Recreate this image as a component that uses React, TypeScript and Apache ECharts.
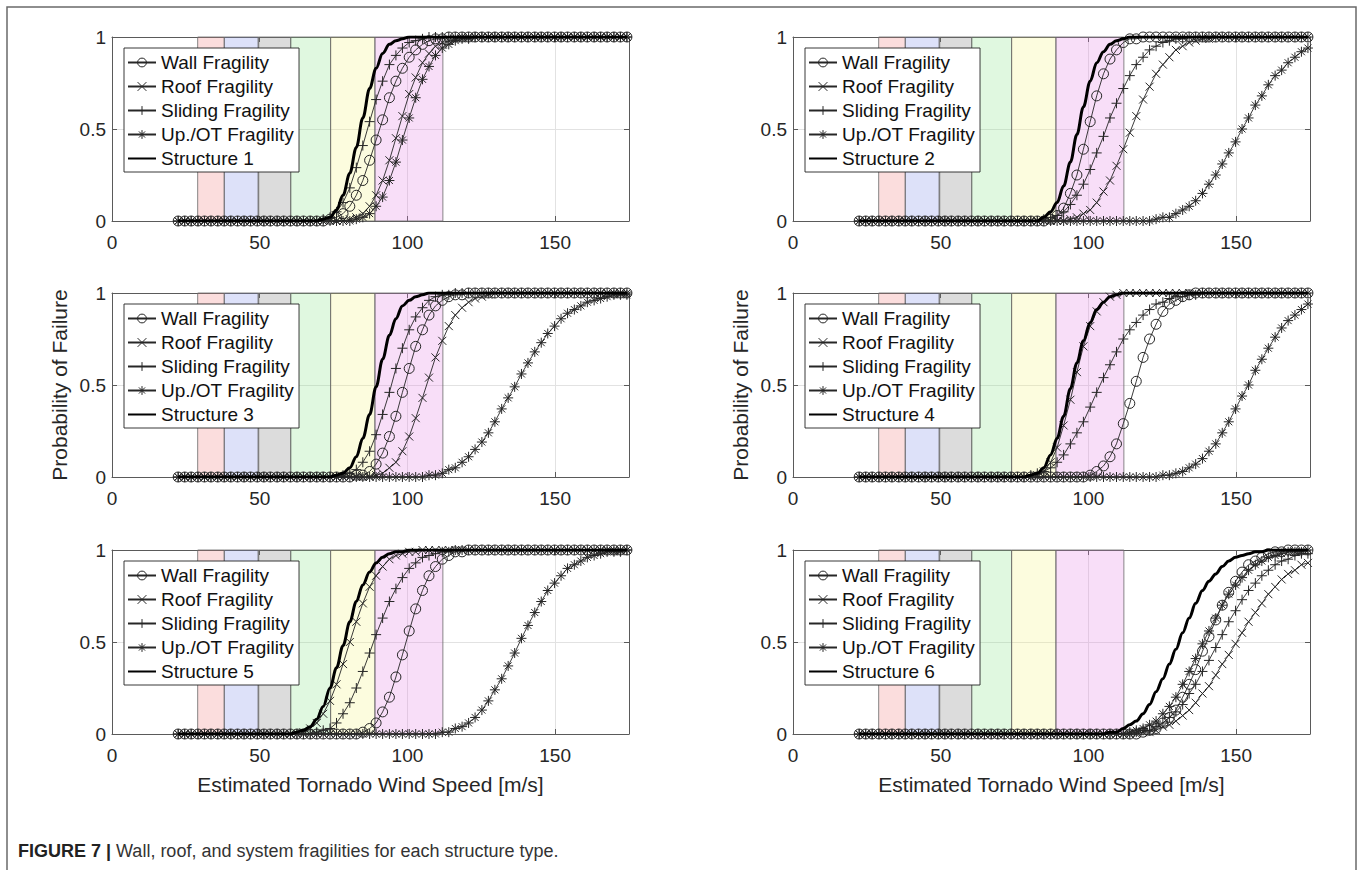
import React, { useEffect, useRef } from "react";
import * as echarts from "echarts";

// Wind speed grid of the markers [m/s]
const SPEED = [
  22.4, 24.6, 26.8, 29.1, 31.3, 33.5, 35.8, 38.0, 40.2, 42.5,
  44.7, 46.9, 49.2, 51.4, 53.6, 55.9, 58.1, 60.4, 62.6, 64.8,
  67.1, 69.3, 71.5, 73.8, 76.0, 78.2, 80.5, 82.7, 84.9, 87.2,
  89.4, 91.6, 93.9, 96.1, 98.3, 100.6, 102.8, 105.1, 107.3, 109.5,
  111.8, 114.0, 116.2, 118.5, 120.7, 122.9, 125.2, 127.4, 129.6, 131.9,
  134.1, 136.3, 138.6, 140.8, 143.1, 145.3, 147.5, 149.8, 152.0, 154.2,
  156.5, 158.7, 160.9, 163.2, 165.4, 167.6, 169.9, 172.1, 174.3,
];

const X_TICKS = [0, 50, 100, 150];
const Y_TICKS = [0, 0.5, 1];

// ---------- Structure 1 ----------
const WALL_1 = [
  0,0,0,0,0,0,0,0,0,0,
  0,0,0,0,0,0,0,0,0,0,
  0,0,0,.01,.02,.04,.08,.14,.22,.33,
  .44,.55,.67,.76,.83,.89,.93,.96,.98,.99,
  .99,1,1,1,1,1,1,1,1,1,
  1,1,1,1,1,1,1,1,1,1,
  1,1,1,1,1,1,1,1,1,
];
const ROOF_1 = [
  0,0,0,0,0,0,0,0,0,0,
  0,0,0,0,0,0,0,0,0,0,
  0,0,0,0,0,0,.01,.02,.04,.08,
  .14,.22,.33,.45,.57,.69,.78,.86,.91,.95,
  .97,.98,.99,1,1,1,1,1,1,1,
  1,1,1,1,1,1,1,1,1,1,
  1,1,1,1,1,1,1,1,1,
];
const SLIDE_1 = [
  0,0,0,0,0,0,0,0,0,0,
  0,0,0,0,0,0,0,0,0,0,
  0,0,.01,.02,.05,.10,.18,.29,.41,.54,
  .66,.76,.85,.90,.94,.97,.98,.99,1,1,
  1,1,1,1,1,1,1,1,1,1,
  1,1,1,1,1,1,1,1,1,1,
  1,1,1,1,1,1,1,1,1,
];
const UP_1 = [
  0,0,0,0,0,0,0,0,0,0,
  0,0,0,0,0,0,0,0,0,0,
  0,0,0,0,0,0,0,.01,.02,.04,
  .08,.13,.22,.32,.44,.56,.67,.77,.84,.90,
  .94,.96,.98,.99,.99,1,1,1,1,1,
  1,1,1,1,1,1,1,1,1,1,
  1,1,1,1,1,1,1,1,1,
];
const STRUCT_1 = [
  0,0,0,0,0,0,0,0,0,0,
  0,0,0,0,0,0,0,0,0,0,
  0,0,.01,.02,.06,.14,.26,.40,.56,.72,
  .83,.91,.96,.98,.99,1,1,1,1,1,
  1,1,1,1,1,1,1,1,1,1,
  1,1,1,1,1,1,1,1,1,1,
  1,1,1,1,1,1,1,1,1,
];

// ---------- Structure 2 ----------
const WALL_2 = [
  0,0,0,0,0,0,0,0,0,0,
  0,0,0,0,0,0,0,0,0,0,
  0,0,0,0,0,0,0,0,0,.01,
  .03,.07,.15,.25,.39,.54,.68,.80,.88,.93,
  .97,.99,.99,1,1,1,1,1,1,1,
  1,1,1,1,1,1,1,1,1,1,
  1,1,1,1,1,1,1,1,1,
];
const ROOF_2 = [
  0,0,0,0,0,0,0,0,0,0,
  0,0,0,0,0,0,0,0,0,0,
  0,0,0,0,0,0,0,0,0,0,
  0,0,.01,.02,.04,.06,.10,.16,.22,.30,
  .39,.48,.57,.66,.73,.80,.85,.89,.93,.95,
  .97,.98,.99,.99,1,1,1,1,1,1,
  1,1,1,1,1,1,1,1,1,
];
const SLIDE_2 = [
  0,0,0,0,0,0,0,0,0,0,
  0,0,0,0,0,0,0,0,0,0,
  0,0,0,0,0,0,0,0,.01,.02,
  .03,.05,.09,.14,.20,.28,.37,.46,.56,.64,
  .72,.79,.85,.89,.93,.95,.97,.98,.99,.99,
  1,1,1,1,1,1,1,1,1,1,
  1,1,1,1,1,1,1,1,1,
];
const UP_2 = [
  0,0,0,0,0,0,0,0,0,0,
  0,0,0,0,0,0,0,0,0,0,
  0,0,0,0,0,0,0,0,0,0,
  0,0,0,0,0,0,0,0,0,0,
  0,0,0,0,0,.01,.02,.02,.04,.06,
  .08,.11,.15,.20,.25,.31,.37,.43,.50,.56,
  .63,.68,.74,.79,.82,.86,.89,.92,.94,
];
const STRUCT_2 = [
  0,0,0,0,0,0,0,0,0,0,
  0,0,0,0,0,0,0,0,0,0,
  0,0,0,0,0,0,0,0,.02,.05,
  .10,.19,.32,.47,.62,.76,.86,.92,.96,.98,
  .99,1,1,1,1,1,1,1,1,1,
  1,1,1,1,1,1,1,1,1,1,
  1,1,1,1,1,1,1,1,1,
];

// ---------- Structure 3 ----------
const WALL_3 = [
  0,0,0,0,0,0,0,0,0,0,
  0,0,0,0,0,0,0,0,0,0,
  0,0,0,0,0,0,0,.01,.01,.03,
  .07,.13,.22,.33,.46,.59,.71,.80,.88,.93,
  .96,.98,.99,.99,1,1,1,1,1,1,
  1,1,1,1,1,1,1,1,1,1,
  1,1,1,1,1,1,1,1,1,
];
const ROOF_3 = [
  0,0,0,0,0,0,0,0,0,0,
  0,0,0,0,0,0,0,0,0,0,
  0,0,0,0,0,0,0,0,0,0,
  .01,.02,.05,.08,.14,.22,.32,.43,.54,.65,
  .74,.82,.88,.92,.95,.97,.98,.99,1,1,
  1,1,1,1,1,1,1,1,1,1,
  1,1,1,1,1,1,1,1,1,
];
const SLIDE_3 = [
  0,0,0,0,0,0,0,0,0,0,
  0,0,0,0,0,0,0,0,0,0,
  0,0,0,0,0,.01,.02,.04,.08,.14,
  .23,.34,.46,.59,.70,.80,.87,.92,.96,.98,
  .99,.99,1,1,1,1,1,1,1,1,
  1,1,1,1,1,1,1,1,1,1,
  1,1,1,1,1,1,1,1,1,
];
const UP_3 = [
  0,0,0,0,0,0,0,0,0,0,
  0,0,0,0,0,0,0,0,0,0,
  0,0,0,0,0,0,0,0,0,0,
  0,0,0,0,0,0,0,0,.01,.01,
  .02,.04,.05,.08,.11,.15,.19,.24,.30,.37,
  .43,.49,.56,.62,.68,.73,.78,.82,.86,.89,
  .91,.93,.95,.96,.97,.98,.99,.99,.99,
];
const STRUCT_3 = [
  0,0,0,0,0,0,0,0,0,0,
  0,0,0,0,0,0,0,0,0,0,
  0,0,0,0,.01,.02,.05,.11,.21,.34,
  .49,.64,.77,.86,.93,.96,.98,.99,1,1,
  1,1,1,1,1,1,1,1,1,1,
  1,1,1,1,1,1,1,1,1,1,
  1,1,1,1,1,1,1,1,1,
];

// ---------- Structure 4 ----------
const WALL_4 = [
  0,0,0,0,0,0,0,0,0,0,
  0,0,0,0,0,0,0,0,0,0,
  0,0,0,0,0,0,0,0,0,0,
  0,0,0,0,0,.01,.03,.06,.11,.18,
  .29,.40,.52,.65,.75,.83,.90,.94,.96,.98,
  .99,1,1,1,1,1,1,1,1,1,
  1,1,1,1,1,1,1,1,1,
];
const ROOF_4 = [
  0,0,0,0,0,0,0,0,0,0,
  0,0,0,0,0,0,0,0,0,0,
  0,0,0,0,0,0,0,.01,.03,.08,
  .16,.28,.42,.57,.71,.82,.90,.95,.98,.99,
  1,1,1,1,1,1,1,1,1,1,
  1,1,1,1,1,1,1,1,1,1,
  1,1,1,1,1,1,1,1,1,
];
const SLIDE_4 = [
  0,0,0,0,0,0,0,0,0,0,
  0,0,0,0,0,0,0,0,0,0,
  0,0,0,0,0,0,.01,.02,.03,.05,
  .08,.12,.18,.24,.30,.38,.46,.54,.61,.68,
  .75,.80,.84,.88,.91,.94,.95,.97,.98,.98,
  .99,.99,1,1,1,1,1,1,1,1,
  1,1,1,1,1,1,1,1,1,
];
const UP_4 = [
  0,0,0,0,0,0,0,0,0,0,
  0,0,0,0,0,0,0,0,0,0,
  0,0,0,0,0,0,0,0,0,0,
  0,0,0,0,0,0,0,0,0,0,
  0,0,0,0,0,0,.01,.01,.02,.03,
  .05,.07,.10,.14,.18,.24,.30,.37,.44,.50,
  .58,.64,.70,.76,.81,.85,.88,.91,.94,
];
const STRUCT_4 = [
  0,0,0,0,0,0,0,0,0,0,
  0,0,0,0,0,0,0,0,0,0,
  0,0,0,0,0,0,.01,.02,.05,.12,
  .21,.33,.48,.62,.74,.84,.91,.95,.98,.99,
  1,1,1,1,1,1,1,1,1,1,
  1,1,1,1,1,1,1,1,1,1,
  1,1,1,1,1,1,1,1,1,
];

// ---------- Structure 5 ----------
const WALL_5 = [
  0,0,0,0,0,0,0,0,0,0,
  0,0,0,0,0,0,0,0,0,0,
  0,0,0,0,0,0,0,0,.01,.03,
  .06,.12,.20,.31,.43,.56,.68,.78,.86,.91,
  .95,.97,.99,.99,1,1,1,1,1,1,
  1,1,1,1,1,1,1,1,1,1,
  1,1,1,1,1,1,1,1,1,
];
const ROOF_5 = [
  0,0,0,0,0,0,0,0,0,0,
  0,0,0,0,0,0,0,0,0,.01,
  .03,.06,.11,.18,.27,.38,.50,.61,.71,.80,
  .86,.91,.95,.97,.98,.99,.99,1,1,1,
  1,1,1,1,1,1,1,1,1,1,
  1,1,1,1,1,1,1,1,1,1,
  1,1,1,1,1,1,1,1,1,
];
const SLIDE_5 = [
  0,0,0,0,0,0,0,0,0,0,
  0,0,0,0,0,0,0,0,0,0,
  0,.01,.02,.03,.06,.11,.17,.25,.34,.44,
  .54,.63,.72,.79,.85,.90,.93,.96,.97,.98,
  .99,.99,1,1,1,1,1,1,1,1,
  1,1,1,1,1,1,1,1,1,1,
  1,1,1,1,1,1,1,1,1,
];
const UP_5 = [
  0,0,0,0,0,0,0,0,0,0,
  0,0,0,0,0,0,0,0,0,0,
  0,0,0,0,0,0,0,0,0,0,
  0,0,0,0,0,0,0,0,0,0,
  .01,.01,.03,.04,.06,.09,.13,.18,.24,.30,
  .37,.44,.52,.59,.66,.72,.78,.82,.86,.90,
  .92,.94,.96,.97,.98,.99,.99,.99,1,
];
const STRUCT_5 = [
  0,0,0,0,0,0,0,0,0,0,
  0,0,0,0,0,0,0,0,.01,.02,
  .04,.08,.15,.25,.36,.48,.61,.72,.81,.88,
  .93,.96,.98,.99,.99,1,1,1,1,1,
  1,1,1,1,1,1,1,1,1,1,
  1,1,1,1,1,1,1,1,1,1,
  1,1,1,1,1,1,1,1,1,
];

// ---------- Structure 6 ----------
const WALL_6 = [
  0,0,0,0,0,0,0,0,0,0,
  0,0,0,0,0,0,0,0,0,0,
  0,0,0,0,0,0,0,0,0,0,
  0,0,0,0,0,0,0,0,0,0,
  0,0,0,.01,.02,.03,.06,.09,.13,.20,
  .27,.35,.45,.53,.62,.70,.77,.83,.88,.92,
  .94,.96,.98,.99,.99,1,1,1,1,
];
const ROOF_6 = [
  0,0,0,0,0,0,0,0,0,0,
  0,0,0,0,0,0,0,0,0,0,
  0,0,0,0,0,0,0,0,0,0,
  0,0,0,0,0,0,0,0,0,0,
  0,0,0,.01,.01,.02,.04,.05,.07,.10,
  .13,.17,.22,.26,.32,.38,.43,.49,.55,.61,
  .66,.71,.76,.80,.84,.87,.89,.92,.93,
];
const SLIDE_6 = [
  0,0,0,0,0,0,0,0,0,0,
  0,0,0,0,0,0,0,0,0,0,
  0,0,0,0,0,0,0,0,0,0,
  0,0,0,0,0,0,0,0,0,0,
  0,0,.01,.02,.02,.04,.06,.09,.12,.16,
  .22,.27,.34,.40,.47,.54,.61,.67,.73,.78,
  .82,.86,.89,.92,.94,.95,.97,.98,.98,
];
const UP_6 = [
  0,0,0,0,0,0,0,0,0,0,
  0,0,0,0,0,0,0,0,0,0,
  0,0,0,0,0,0,0,0,0,0,
  0,0,0,0,0,0,0,0,0,0,
  0,.01,.02,.03,.05,.07,.11,.15,.20,.27,
  .34,.41,.49,.56,.63,.70,.76,.81,.85,.89,
  .92,.94,.96,.97,.98,.99,.99,.99,1,
];
const STRUCT_6 = [
  0,0,0,0,0,0,0,0,0,0,
  0,0,0,0,0,0,0,0,0,0,
  0,0,0,0,0,0,0,0,0,0,
  0,0,0,0,0,0,0,0,.01,.01,
  .03,.05,.07,.11,.16,.23,.30,.38,.46,.55,
  .63,.71,.78,.83,.87,.91,.94,.96,.97,.98,
  .99,.99,1,1,1,1,1,1,1,
];

const WALL = [WALL_1, WALL_2, WALL_3, WALL_4, WALL_5, WALL_6];
const ROOF = [ROOF_1, ROOF_2, ROOF_3, ROOF_4, ROOF_5, ROOF_6];
const SLIDE = [SLIDE_1, SLIDE_2, SLIDE_3, SLIDE_4, SLIDE_5, SLIDE_6];
const UP = [UP_1, UP_2, UP_3, UP_4, UP_5, UP_6];
const STRUCT = [STRUCT_1, STRUCT_2, STRUCT_3, STRUCT_4, STRUCT_5, STRUCT_6];

const COMPONENT_NAMES = ["Wall Fragility", "Roof Fragility", "Sliding Fragility", "Up./OT Fragility"];
const STRUCTURE_NAMES = ["Structure 1", "Structure 2", "Structure 3", "Structure 4", "Structure 5", "Structure 6"];

// EF-scale wind speed bands [m/s]
const EF_BANDS = [[29, 38], [38, 49.5], [49.5, 60.5], [60.5, 74], [74, 89], [89, 112]];
const EF_COLORS = [
  "rgba(240,120,120,0.25)",
  "rgba(120,135,230,0.25)",
  "rgba(115,115,115,0.25)",
  "rgba(131,227,131,0.25)",
  "rgba(243,243,123,0.25)",
  "rgba(227,123,227,0.25)",
];

const X_TITLE = "Estimated Tornado Wind Speed [m/s]";
const Y_TITLE = "Probability of Failure";
const CAPTION_BOLD = "FIGURE 7 |";
const CAPTION_TEXT = " Wall, roof, and system fragilities for each structure type.";

const FONT = "'Liberation Sans', Arial, Helvetica, sans-serif";
const GRID_LEFT = [112, 793];
const GRID_TOP = [37, 293, 550];
const GRID_W = 517;
const GRID_H = 184;
const AXIS_COLOR = "#5a5a5a";
const LINE_COLOR = "#262626";
const TEXT_COLOR = "#262626";

const SYMBOLS = [
  "path://M10,5A5,5,0,1,1,0,5A5,5,0,1,1,10,5Z",
  "path://M0,0L10,10M10,0L0,10",
  "path://M5,0L5,10M0,5L10,5",
  "path://M5,0L5,10M0,5L10,5M1.5,1.5L8.5,8.5M8.5,1.5L1.5,8.5",
];
const SYMBOL_SIZES = [10, 8, 10, 10];

function buildOption() {
  const grid: any[] = [];
  const xAxis: any[] = [];
  const yAxis: any[] = [];
  const series: any[] = [];
  const legend: any[] = [];

  for (let p = 0; p < 6; p++) {
    const col = p % 2;
    const row = Math.floor(p / 2);
    const left = GRID_LEFT[col];
    const top = GRID_TOP[row];
    grid.push({ left, top, width: GRID_W, height: GRID_H, containLabel: false });

    const isBottom = row === 2;
    const isMiddle = row === 1;

    xAxis.push({
      type: "value",
      gridIndex: p,
      min: X_TICKS[0],
      max: 175,
      interval: X_TICKS[1] - X_TICKS[0],
      axisLine: { show: true, onZero: false, lineStyle: { color: AXIS_COLOR, width: 1 } },
      axisTick: { show: true, inside: true, length: 5, lineStyle: { color: AXIS_COLOR } },
      axisLabel: {
        show: true, fontSize: 19, color: TEXT_COLOR, margin: 12, fontFamily: FONT,
        showMaxLabel: false,
      },
      splitLine: { show: true, lineStyle: { color: "#e2e2e2", width: 1 } },
      name: isBottom ? X_TITLE : "",
      nameLocation: "middle",
      nameGap: 40,
      nameTextStyle: { fontSize: 21, color: TEXT_COLOR, fontFamily: FONT },
    });
    xAxis.push({
      type: "value",
      gridIndex: p,
      position: "top",
      min: 0,
      max: 175,
      interval: 50,
      axisLine: { show: true, onZero: false, lineStyle: { color: AXIS_COLOR, width: 1 } },
      axisTick: { show: true, inside: true, length: 5, lineStyle: { color: AXIS_COLOR } },
      axisLabel: { show: false },
      splitLine: { show: false },
    });
    yAxis.push({
      type: "value",
      gridIndex: p,
      min: Y_TICKS[0],
      max: Y_TICKS[2],
      interval: Y_TICKS[1],
      axisLine: { show: true, onZero: false, lineStyle: { color: AXIS_COLOR, width: 1 } },
      axisTick: { show: true, inside: true, length: 5, lineStyle: { color: AXIS_COLOR } },
      axisLabel: { fontSize: 19, color: TEXT_COLOR, margin: 6, fontFamily: FONT },
      splitLine: { show: true, lineStyle: { color: "#e2e2e2", width: 1 } },
      name: isMiddle ? Y_TITLE : "",
      nameLocation: "middle",
      nameGap: 42,
      nameRotate: 90,
      nameTextStyle: { fontSize: 21, color: TEXT_COLOR, fontFamily: FONT },
    });
    yAxis.push({
      type: "value",
      gridIndex: p,
      position: "right",
      min: 0,
      max: 1,
      interval: 0.5,
      axisLine: { show: true, onZero: false, lineStyle: { color: AXIS_COLOR, width: 1 } },
      axisTick: { show: true, inside: true, length: 5, lineStyle: { color: AXIS_COLOR } },
      axisLabel: { show: false },
      splitLine: { show: false },
    });

    const xi = 2 * p;
    const yi = 2 * p;

    // EF bands
    series.push({
      type: "line",
      name: "bands" + p,
      xAxisIndex: xi,
      yAxisIndex: yi,
      data: [],
      silent: true,
      z: 1,
      markArea: {
        silent: true,
        label: { show: false },
        data: EF_BANDS.map(([a, b], k) => [
          { xAxis: a, yAxis: 0, itemStyle: { color: EF_COLORS[k], borderColor: "#6a6a6a", borderWidth: 0.8 } },
          { xAxis: b, yAxis: 1 },
        ]),
      },
    });

    const comps = [WALL[p], ROOF[p], SLIDE[p], UP[p]];
    comps.forEach((vals, k) => {
      series.push({
        type: "line",
        name: COMPONENT_NAMES[k],
        xAxisIndex: xi,
        yAxisIndex: yi,
        data: SPEED.map((x, i) => [x, vals[i]]),
        symbol: SYMBOLS[k],
        symbolSize: SYMBOL_SIZES[k],
        showSymbol: true,
        itemStyle: { color: "transparent", borderColor: LINE_COLOR, borderWidth: 1 },
        lineStyle: { color: LINE_COLOR, width: 0.9 },
        z: 2,
        silent: true,
      });
    });

    series.push({
      type: "line",
      name: STRUCTURE_NAMES[p],
      xAxisIndex: xi,
      yAxisIndex: yi,
      data: SPEED.map((x, i) => [x, STRUCT[p][i]]),
      symbol: "circle",
      showSymbol: false,
      smooth: 0.35,
      smoothMonotone: "x",
      itemStyle: { color: "#000" },
      lineStyle: { color: "#000", width: 3 },
      z: 3,
      silent: true,
    });

    legend.push({
      orient: "vertical",
      left: left + 12,
      top: top + 11,
      selectedMode: false,
      backgroundColor: "#fff",
      borderColor: "#222",
      borderWidth: 0.9,
      borderRadius: 0,
      padding: [5, 5, 4, 3],
      itemWidth: 28,
      itemHeight: 11,
      itemGap: 5,
      textStyle: { fontFamily: FONT, fontSize: 19, color: "#111" },
      data: [
        ...COMPONENT_NAMES.map((n) => ({
          name: n,
          itemStyle: { color: "transparent", borderColor: LINE_COLOR, borderWidth: 1 },
        })),
        { name: STRUCTURE_NAMES[p], itemStyle: { opacity: 0 } },
      ],
    });
  }

  return {
    animation: false,
    backgroundColor: "#fff",
    grid,
    xAxis,
    yAxis,
    series,
    legend,
    graphic: [
      {
        type: "rect",
        shape: { x: 7, y: 7, width: 1349, height: 900 },
        style: { fill: "none", stroke: "#6a6a6a", lineWidth: 1.5 },
        silent: true,
        z: 0,
      },
      {
        type: "text",
        x: 18,
        y: 851,
        style: {
          text: "{b|" + CAPTION_BOLD + "}" + CAPTION_TEXT,
          fontFamily: FONT,
          fontSize: 18,
          fill: "#333",
          verticalAlign: "middle",
          rich: { b: { fontWeight: "bold", fontSize: 18, fontFamily: FONT, fill: "#222" } },
        },
        silent: true,
      },
    ],
  };
}

export default function App() {
  const ref = useRef<HTMLDivElement>(null);
  useEffect(() => {
    if (!ref.current) return;
    const chart = echarts.init(ref.current, undefined, { renderer: "svg" });
    chart.setOption(buildOption() as any);
    return () => chart.dispose();
  }, []);
  return (
    <div
      ref={ref}
      style={{ position: "absolute", left: 0, top: 0, width: 1360, height: 870, background: "#fff" }}
    />
  );
}
